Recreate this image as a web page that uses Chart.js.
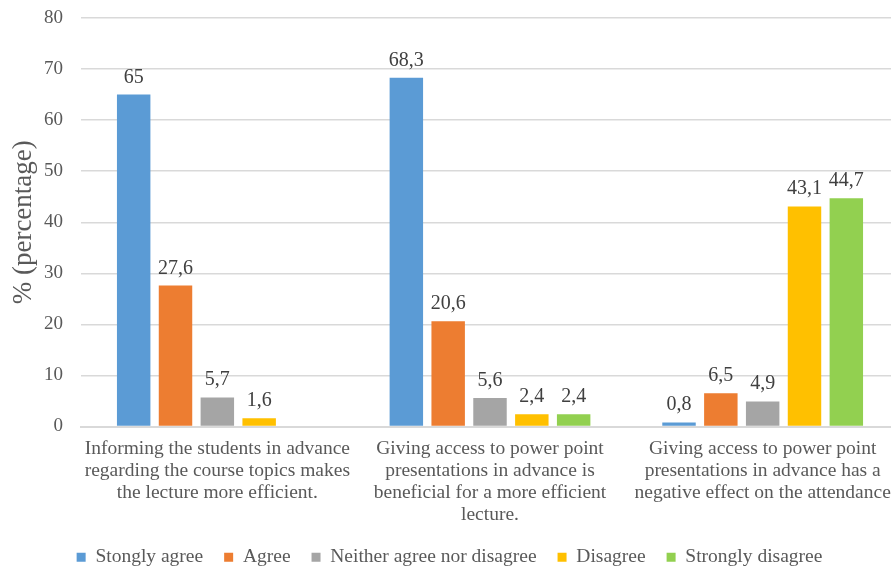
<!DOCTYPE html>
<html>
<head>
<meta charset="utf-8">
<script src="https://cdn.jsdelivr.net/npm/chart.js@4.4.1/dist/chart.umd.min.js"></script>
<style>
  html, body { margin: 0; padding: 0; background: #fff; overflow: hidden; }
  #wrap { width: 891px; height: 569px; overflow: hidden; }
</style>
</head>
<body>
<div id="wrap"><canvas id="surveyChart" width="899" height="569"></canvas></div>
<script>
const categories = [
  ["Informing the students in advance", "regarding the course topics makes", "the lecture more efficient."],
  ["Giving access to power point", "presentations in advance is", "beneficial for a more efficient", "lecture."],
  ["Giving access to power point", "presentations in advance has a", "negative effect on the attendance"]
];
const seriesNames = ["Stongly agree", "Agree", "Neither agree nor disagree", "Disagree", "Strongly disagree"];
const stronglyAgree = [65, 68.3, 0.8];
const agree = [27.6, 20.6, 6.5];
const neither = [5.7, 5.6, 4.9];
const disagree = [1.6, 2.4, 43.1];
const stronglyDisagree = [null, 2.4, 44.7];
const yTicks = [0, 10, 20, 30, 40, 50, 60, 70, 80];

const colors = ["#5B9BD5", "#ED7D31", "#A5A5A5", "#FFC000", "#92D050"];
const FONT = "'Liberation Serif', 'Times New Roman', serif";

// writes the value above each bar, with a decimal comma
const barValues = {
  id: "barValues",
  afterDatasetsDraw(chart) {
    const ctx = chart.ctx;
    ctx.save();
    ctx.font = "20px " + FONT;
    ctx.fillStyle = "#404040";
    ctx.textAlign = "center";
    ctx.textBaseline = "alphabetic";
    chart.data.datasets.forEach((ds, i) => {
      const meta = chart.getDatasetMeta(i);
      meta.data.forEach((bar, j) => {
        const v = ds.data[j];
        if (v == null) return;
        ctx.fillText(String(v).replace(".", ","), bar.x, bar.y - 12);
      });
    });
    ctx.restore();
  }
};

const values = [stronglyAgree, agree, neither, disagree, stronglyDisagree];

new Chart(document.getElementById("surveyChart"), {
  type: "bar",
  data: {
    labels: categories,
    datasets: seriesNames.map((name, i) => ({
      label: name,
      data: values[i],
      backgroundColor: colors[i],
      borderWidth: 0
    }))
  },
  options: {
    responsive: false,
    animation: false,
    layout: { padding: { top: 18, right: 0, bottom: -8, left: 0 } },
    datasets: { bar: { barPercentage: 0.8, categoryPercentage: 0.767 } },
    plugins: {
      legend: {
        position: "bottom",
        labels: {
          font: { family: FONT, size: 19.5 },
          color: "#595959",
          boxWidth: 9,
          boxHeight: 9,
          padding: 21
        }
      },
      tooltip: { enabled: false }
    },
    scales: {
      x: {
        grid: { display: false },
        border: { color: "#D9D9D9", width: 2 },
        ticks: {
          font: { family: FONT, size: 19.5, lineHeight: 1.13 },
          color: "#595959",
          maxRotation: 0,
          autoSkip: false,
          padding: 3
        },
        afterFit(scale) { scale.height = 100; }
      },
      y: {
        min: 0,
        max: 80,
        afterBuildTicks(scale) { scale.ticks = yTicks.map(v => ({ value: v })); },
        grid: { color: "#D9D9D9", lineWidth: 1.5, drawTicks: false },
        border: { display: false },
        ticks: {
          font: { family: FONT, size: 19 },
          color: "#595959",
          padding: 18
        },
        title: {
          display: true,
          text: "% (percentage)",
          font: { family: FONT, size: 27 },
          color: "#595959",
          padding: { top: 8, bottom: 2 }
        },
        afterFit(scale) {
          scale.width = 81;
          scale.paddingTop = 0;
        }
      }
    }
  },
  plugins: [barValues]
});
</script>
</body>
</html>
